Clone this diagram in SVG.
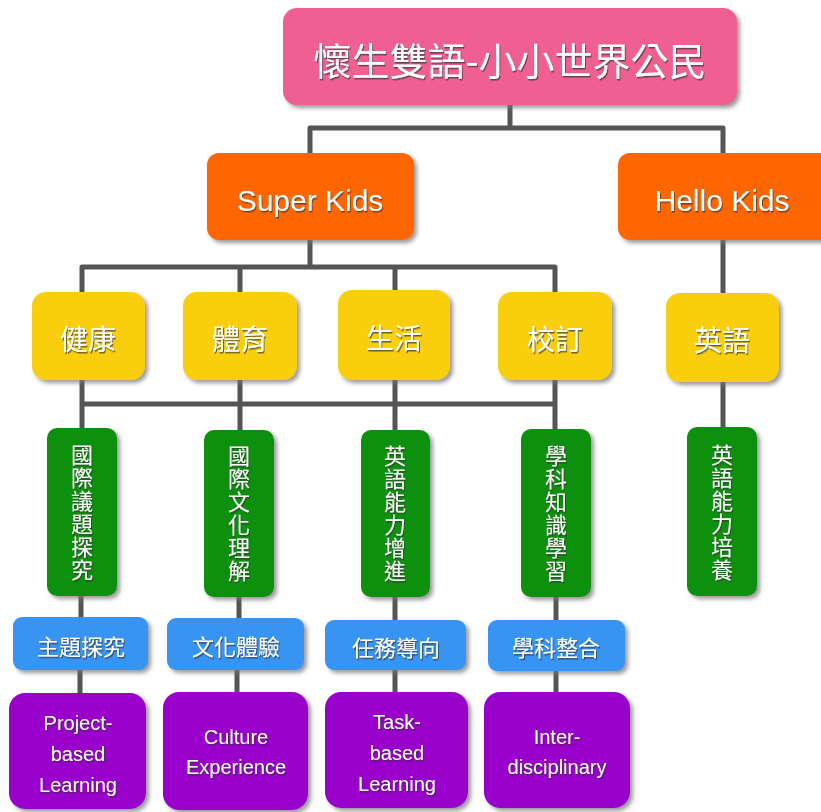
<svg xmlns="http://www.w3.org/2000/svg" width="821" height="812" viewBox="0 0 821 812">
<defs>
<filter id="sh" x="-10%" y="-10%" width="130%" height="130%"><feDropShadow dx="3" dy="3" stdDeviation="2" flood-color="#777" flood-opacity="0.75"/></filter>
<filter id="ts" x="-10%" y="-10%" width="130%" height="130%"><feDropShadow dx="1" dy="1.5" stdDeviation="0.6" flood-color="#333" flood-opacity="0.7"/></filter>
</defs>
<style>
.c{fill:none;stroke:#555;stroke-width:5;stroke-linejoin:round}
.b{filter:url(#sh)}
.t{fill:#fff;font-family:"Noto Sans CJK TC","Noto Sans",sans-serif;text-anchor:middle;dominant-baseline:central;filter:url(#ts)}
.v{fill:#fff;font-family:"Noto Sans CJK TC","Noto Sans",sans-serif;font-size:22px;letter-spacing:1px;writing-mode:vertical-rl;text-orientation:upright;text-anchor:middle;filter:url(#ts)}
.e{fill:#fff;font-family:"Liberation Sans","DejaVu Sans",sans-serif;text-anchor:middle;dominant-baseline:central;filter:url(#ts)}
.pink{fill:#EF5F92}.org{fill:#FF6600}.yel{fill:#F9CF0A}.grn{fill:#0B900B}.blu{fill:#3894F2}.pur{fill:#9900CC}
</style>
<g id="connectors">
<path class="c" d="M510 105V128M310 153V128H723V153"/>
<path class="c" d="M310 240V267M82 292V267H555V292M240 267V292M395 267V292"/>
<path class="c" d="M723 240V293"/>
<path class="c" d="M82 380V430M240 380V430M395 380V430M555 380V430M82 404H555"/>
<path class="c" d="M723 382V428"/>
<path class="c" d="M81 596V618M239 597V618M395 597V620M556 597V620"/>
<path class="c" d="M80 670V693M237 670V692M395 670V692M556 671V692"/>
</g>
<g id="root"><rect class="b pink" x="283" y="8" width="454" height="97" rx="14"/><text class="t" x="510" y="58" font-size="38">懷生雙語-小小世界公民</text></g>
<g id="superkids"><rect class="b org" x="207" y="153" width="207" height="87" rx="12"/><text class="e" x="310" y="200" font-size="30">Super Kids</text></g>
<g id="hellokids"><rect class="b org" x="618" y="153" width="215" height="87" rx="12"/><text class="e" x="722" y="200" font-size="30">Hello Kids</text></g>
<g id="health"><rect class="b yel" x="32" y="292" width="113" height="88" rx="14"/><text class="t" x="88" y="338" font-size="28">健康</text></g>
<g id="pe"><rect class="b yel" x="183" y="292" width="114" height="88" rx="14"/><text class="t" x="240" y="338" font-size="28">體育</text></g>
<g id="life"><rect class="b yel" x="338" y="290" width="112" height="90" rx="14"/><text class="t" x="394" y="337" font-size="28">生活</text></g>
<g id="school"><rect class="b yel" x="498" y="292" width="114" height="88" rx="14"/><text class="t" x="555" y="338" font-size="28">校訂</text></g>
<g id="english"><rect class="b yel" x="666" y="293" width="113" height="89" rx="14"/><text class="t" x="722" y="339" font-size="28">英語</text></g>
<g id="g1"><rect class="b grn" x="47" y="428" width="70" height="168" rx="10"/><text class="v" x="82" y="513">國際議題探究</text></g>
<g id="g2"><rect class="b grn" x="204" y="430" width="70" height="167" rx="10"/><text class="v" x="239" y="514">國際文化理解</text></g>
<g id="g3"><rect class="b grn" x="361" y="430" width="69" height="167" rx="10"/><text class="v" x="395" y="514">英語能力增進</text></g>
<g id="g4"><rect class="b grn" x="521" y="429" width="70" height="168" rx="10"/><text class="v" x="556" y="514">學科知識學習</text></g>
<g id="g5"><rect class="b grn" x="687" y="427" width="70" height="169" rx="10"/><text class="v" x="722" y="513">英語能力培養</text></g>
<g id="b1"><rect class="b blu" x="13" y="617" width="135" height="53" rx="9"/><text class="t" x="81" y="645" font-size="22">主題探究</text></g>
<g id="b2"><rect class="b blu" x="167" y="618" width="137" height="52" rx="9"/><text class="t" x="236" y="645" font-size="22">文化體驗</text></g>
<g id="b3"><rect class="b blu" x="325" y="620" width="141" height="50" rx="9"/><text class="t" x="396" y="646" font-size="22">任務導向</text></g>
<g id="b4"><rect class="b blu" x="488" y="620" width="137" height="51" rx="9"/><text class="t" x="556" y="646" font-size="22">學科整合</text></g>
<g id="p1"><rect class="b pur" x="9" y="693" width="137" height="116" rx="16"/><text class="e" font-size="20"><tspan x="78" y="723">Project-</tspan><tspan x="78" y="754">based</tspan><tspan x="78" y="785">Learning</tspan></text></g>
<g id="p2"><rect class="b pur" x="163" y="692" width="145" height="118" rx="16"/><text class="e" font-size="20"><tspan x="236" y="737">Culture</tspan><tspan x="236" y="767">Experience</tspan></text></g>
<g id="p3"><rect class="b pur" x="325" y="692" width="143" height="116" rx="16"/><text class="e" font-size="20"><tspan x="397" y="722">Task-</tspan><tspan x="397" y="753">based</tspan><tspan x="397" y="784">Learning</tspan></text></g>
<g id="p4"><rect class="b pur" x="484" y="692" width="146" height="116" rx="16"/><text class="e" font-size="20"><tspan x="557" y="737">Inter-</tspan><tspan x="557" y="767">disciplinary</tspan></text></g>
</svg>
